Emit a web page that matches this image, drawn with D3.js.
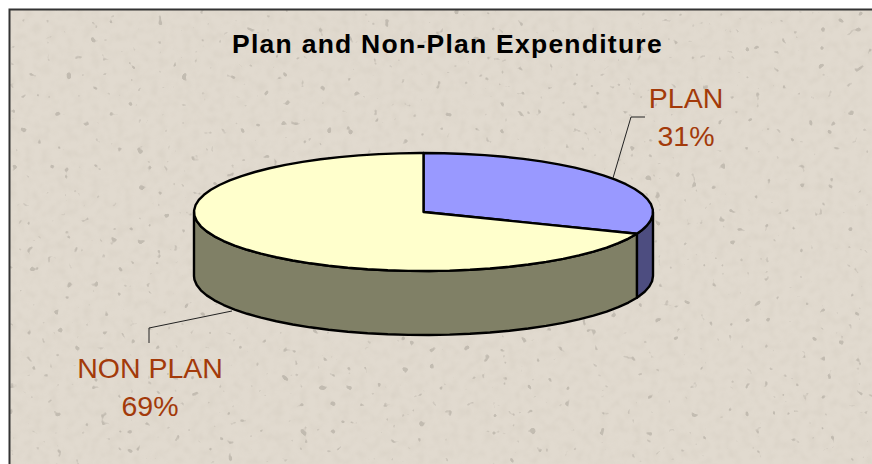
<!DOCTYPE html>
<html>
<head>
<meta charset="utf-8">
<script src="https://cdnjs.cloudflare.com/ajax/libs/d3/7.8.5/d3.min.js"></script>
<style>
  html, body { margin: 0; padding: 0; background: #fff; overflow: hidden; }
  svg { display: block; }
  text { font-family: "Liberation Sans", Arial, sans-serif; }
</style>
</head>
<body>
<div id="svganchor"></div>
<script>
let categories = ["PLAN", "NON PLAN"];
let shares = [31, 69];
let shareLabels = ["31%", "69%"];
let chartTitle = "Plan and Non-Plan Expenditure";

let width = 872, height = 464;
let depth = 64;
let topColors = ["#9999ff", "#ffffcc"];
let wallColors = ["#4d4d80", "#808066"];

let svg = d3.select("#svganchor")
    .append("svg")
    .attr("width", width)
    .attr("height", height);

// Speckled paper texture
let defs = svg.append("defs");
let mottle = defs.append("filter").attr("id", "mottle")
    .attr("x", 0).attr("y", 0).attr("width", 1).attr("height", 1);
mottle.append("feTurbulence")
    .attr("type", "fractalNoise").attr("baseFrequency", 0.12)
    .attr("numOctaves", 3).attr("seed", 4);
mottle.append("feColorMatrix").attr("type", "matrix")
    .attr("values", "0 0 0 0 0.55  0 0 0 0 0.50  0 0 0 0 0.42  2.2 0 0 0 -0.95");
mottle.append("feGaussianBlur").attr("stdDeviation", 1);

let specks = defs.append("filter").attr("id", "specks")
    .attr("x", 0).attr("y", 0).attr("width", 1).attr("height", 1);
specks.append("feTurbulence")
    .attr("type", "fractalNoise").attr("baseFrequency", 0.11)
    .attr("numOctaves", 2).attr("seed", 23);
specks.append("feColorMatrix").attr("type", "matrix")
    .attr("values", "0 0 0 0 0.35  0 0 0 0 0.32  0 0 0 0 0.28  14 0 0 0 -10.2");
specks.append("feGaussianBlur").attr("stdDeviation", 0.7);

svg.append("rect").attr("width", width).attr("height", height).attr("fill", "#e1dacf");
svg.append("rect").attr("width", width).attr("height", height).attr("filter", "url(#mottle)").attr("opacity", 0.22);
svg.append("rect").attr("width", width).attr("height", height).attr("filter", "url(#specks)").attr("opacity", 0.45);

// White outside the frame, dark line on top and left
svg.append("rect").attr("width", width).attr("height", 9).attr("fill", "#fff");
svg.append("rect").attr("width", 9).attr("height", height).attr("fill", "#fff");
svg.append("path")
    .attr("d", "M9.5," + height + "V9.5H" + width)
    .attr("fill", "none")
    .attr("stroke", "#333")
    .attr("stroke-width", 2);

// Pie is a unit circle mapped on to the tilted ellipse
let xScale = d3.scaleLinear().domain([-1, 1]).range([194, 653]);
let yScale = d3.scaleLinear().domain([-1, 1]).range([153, 271]);

let slices = d3.pie().sort(null)(shares);

let rim = d3.line()
    .x(a => xScale(Math.sin(a)))
    .y(a => yScale(-Math.cos(a)));

function anglesBetween(a0, a1) {
    return d3.range(a0, a1, 0.09).concat([a1]);
}

function wallPath(a0, a1) {
    let pts = anglesBetween(a0, a1).map(a => [xScale(Math.sin(a)), yScale(-Math.cos(a))]);
    let lower = pts.map(p => [p[0], p[1] + depth]).reverse();
    return d3.line()(pts.concat(lower)) + "Z";
}

// Side walls only show on the front half of the ellipse
slices.forEach((s, i) => {
    let a0 = Math.max(s.startAngle, Math.PI / 2);
    let a1 = Math.min(s.endAngle, Math.PI * 1.5);
    svg.append("path")
        .attr("d", wallPath(a0, a1))
        .attr("fill", wallColors[i])
        .attr("stroke", "#000")
        .attr("stroke-width", 2.4)
        .attr("stroke-linejoin", "round");
});

// Top faces
slices.forEach((s, i) => {
    let outer = rim(anglesBetween(s.startAngle, s.endAngle));
    svg.append("path")
        .attr("d", outer + "L" + xScale(0) + "," + yScale(0) + "Z")
        .attr("fill", topColors[i])
        .attr("stroke", "#000")
        .attr("stroke-width", 2.4)
        .attr("stroke-linejoin", "round");
});

// Leader lines
let leaders = [
    [[645, 117], [631, 117], [613, 178]],
    [[149, 343], [149, 328], [232, 311]]
];
leaders.forEach(l => {
    svg.append("path")
        .attr("d", d3.line()(l))
        .attr("fill", "none")
        .attr("stroke", "#222")
        .attr("stroke-width", 1);
});

// Labels
let labelPos = [[686, 108, 146], [150, 378, 416]];
categories.forEach((c, i) => {
    svg.append("text")
        .attr("x", labelPos[i][0]).attr("y", labelPos[i][1])
        .attr("text-anchor", "middle")
        .attr("font-size", 28.5)
        .attr("fill", "#a33a0a")
        .text(c);
    svg.append("text")
        .attr("x", labelPos[i][0]).attr("y", labelPos[i][2])
        .attr("text-anchor", "middle")
        .attr("font-size", 28.5)
        .attr("fill", "#a33a0a")
        .text(shareLabels[i]);
});

svg.append("text")
    .attr("x", 447.5).attr("y", 53)
    .attr("text-anchor", "middle")
    .attr("font-size", 26.5)
    .attr("font-weight", "bold")
    .attr("letter-spacing", 1.25)
    .attr("fill", "#000")
    .text(chartTitle);
</script>
</body>
</html>
